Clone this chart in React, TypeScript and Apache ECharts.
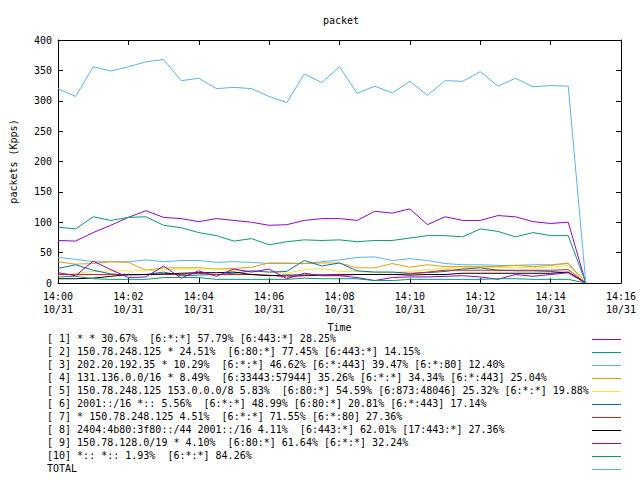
import React, { useEffect, useRef } from "react";
import * as echarts from "echarts";

const times = [
  "14:00:00", "14:00:30", "14:01:00", "14:01:30", "14:02:00", "14:02:30", "14:03:00", "14:03:30",
  "14:04:00", "14:04:30", "14:05:00", "14:05:30", "14:06:00", "14:06:30", "14:07:00", "14:07:30",
  "14:08:00", "14:08:30", "14:09:00", "14:09:30", "14:10:00", "14:10:30", "14:11:00", "14:11:30",
  "14:12:00", "14:12:30", "14:13:00", "14:13:30", "14:14:00", "14:14:30", "14:15:00",
];

const xTickMinutes = [0, 2, 4, 6, 8, 10, 12, 14, 16];
const dateLabel = "10/31";

const names = [
  "[ 1] * * 30.67%  [6:*:*] 57.79% [6:443:*] 28.25%",
  "[ 2] 150.78.248.125 * 24.51%  [6:80:*] 77.45% [6:443:*] 14.15%",
  "[ 3] 202.20.192.35 * 10.29%  [6:*:*] 46.62% [6:*:443] 39.47% [6:*:80] 12.40%",
  "[ 4] 131.136.0.0/16 * 8.49%  [6:33443:57944] 35.26% [6:*:*] 34.34% [6:*:443] 25.04%",
  "[ 5] 150.78.248.125 153.0.0.0/8 5.83%  [6:80:*] 54.59% [6:873:48046] 25.32% [6:*:*] 19.88%",
  "[ 6] 2001::/16 *:: 5.56%  [6:*:*] 48.99% [6:80:*] 20.81% [6:*:443] 17.14%",
  "[ 7] * 150.78.248.125 4.51%  [6:*:*] 71.55% [6:*:80] 27.36%",
  "[ 8] 2404:4b80:3f80::/44 2001::/16 4.11%  [6:443:*] 62.01% [17:443:*] 27.36%",
  "[ 9] 150.78.128.0/19 * 4.10%  [6:80:*] 61.64% [6:*:*] 32.24%",
  "[10] *:: *:: 1.93%  [6:*:*] 84.26%",
  "TOTAL",
];

const colors = [
  "#9400d3", "#009e73", "#56b4e9", "#e69f00", "#f0e442", "#0072b2",
  "#e51e10", "#000000", "#9400d3", "#009e73", "#56b4e9",
];

const s1 = [70, 69, 83, 95, 108, 119, 108, 106, 101, 106, 103, 100, 95, 96, 103, 106, 106, 103, 118, 115, 122, 96, 109, 103, 103, 111, 109, 101, 98, 100, 0];
const s2 = [92, 89, 109, 103, 108, 109, 95, 91, 83, 78, 69, 73, 63, 68, 71, 70, 71, 68, 70, 70, 74, 78, 78, 76, 89, 85, 76, 83, 78, 78, 0];
const s3 = [42, 39, 35, 35, 35, 38, 35, 37, 37, 34, 35, 34, 32, 32, 32, 35, 38, 42, 43, 37, 40, 37, 32, 30, 30, 29, 29, 30, 30, 32, 0];
const s4 = [35, 31, 32, 35, 34, 21, 25, 25, 25, 23, 24, 26, 33, 33, 32, 33, 33, 25, 25, 32, 26, 30, 27, 27, 27, 27, 29, 27, 29, 33, 0];
const s5 = [13, 16, 19, 20, 20, 20, 22, 23, 23, 23, 21, 20, 18, 16, 22, 24, 19, 19, 17, 17, 19, 22, 24, 25, 26, 25, 26, 25, 26, 29, 0];
const s6 = [24, 30, 21, 15, 13, 14, 18, 12, 13, 14, 16, 20, 18, 19, 37, 28, 33, 20, 18, 18, 16, 17, 19, 23, 25, 21, 20, 20, 19, 17, 0];
const s7 = [14, 14, 14, 14, 14, 14, 14, 14, 16, 14, 14, 14, 13, 10, 12, 13, 14, 14, 14, 14, 15, 18, 21, 21, 21, 21, 21, 21, 21, 22, 0];
const s8 = [7, 7, 8, 11, 14, 14, 15, 16, 17, 17, 18, 14, 12, 13, 13, 13, 13, 14, 14, 14, 13, 14, 14, 16, 16, 16, 16, 16, 16, 18, 0];
const s9 = [17, 12, 36, 22, 9, 10, 28, 8, 20, 11, 23, 18, 23, 7, 16, 12, 12, 9, 4, 9, 10, 10, 11, 12, 10, 6, 14, 11, 14, 17, 0];
const s10 = [10, 11, 7, 6, 6, 6, 9, 9, 9, 6, 6, 6, 6, 6, 8, 7, 7, 7, 4, 4, 6, 6, 6, 6, 6, 7, 7, 6, 6, 6, 0];
const total = [320, 307, 356, 349, 356, 364, 368, 333, 337, 320, 322, 320, 307, 297, 344, 330, 356, 312, 324, 313, 332, 309, 333, 332, 348, 324, 337, 323, 325, 324, 0];

const seriesValues = [s1, s2, s3, s4, s5, s6, s7, s8, s9, s10, total];

const FONT = '"DejaVu Sans Mono", "Liberation Mono", monospace';

function toMinutes(t: string): number {
  const [h, m, s] = t.split(":").map(Number);
  return (h - 14) * 60 + m + s / 60;
}

function pad(n: number) {
  return n < 10 ? "0" + n : String(n);
}

export default function App() {
  const ref = useRef<HTMLDivElement>(null);
  useEffect(() => {
    if (!ref.current) return;
    const chart = echarts.init(ref.current, null, { renderer: "svg" });
    const xs = times.map(toMinutes);
    const textStyle = { fontFamily: FONT, fontSize: 10, color: "#000" };

    const series = seriesValues.map((vals, k) => ({
      name: names[k],
      type: "line" as const,
      data: vals.map((v, i) => [xs[i], v]),
      showSymbol: false,
      symbol: "none",
      silent: true,
      lineStyle: { width: 1, color: colors[k] },
      itemStyle: { color: colors[k] },
      emphasis: { disabled: true },
      z: 2,
    }));

    const legendGraphics: any[] = [];
    names.forEach((n, k) => {
      const y = 339.5 + 13 * k;
      legendGraphics.push({
        type: "text",
        left: 47,
        top: y - 6,
        silent: true,
        style: {
          text: n.replace(/  /g, "\u00a0 "),
          font: `10px ${FONT}`,
          fill: "#000",
        },
      });
      legendGraphics.push({
        type: "line",
        silent: true,
        shape: { x1: 592, y1: y, x2: 621, y2: y },
        style: { stroke: colors[k], lineWidth: 1 },
      });
    });

    const axisTick = { show: true, inside: true, length: 5, lineStyle: { color: "#000", width: 1 } };
    const axisLine = { show: true, onZero: false, lineStyle: { color: "#000", width: 1 } };

    chart.setOption({
      animation: false,
      backgroundColor: "#fff",
      title: {
        text: "packet",
        left: 318,
        top: 10,
        textStyle: { ...textStyle, fontWeight: "normal" },
      },
      grid: { left: 52, right: 19, top: 40, bottom: 197, containLabel: false },
      xAxis: [
        {
          type: "value",
          min: 0,
          max: 16,
          interval: 2,
          name: "Time",
          nameLocation: "middle",
          nameGap: 39,
          nameTextStyle: textStyle,
          axisLine,
          axisTick,
          splitLine: { show: false },
          axisLabel: {
            ...textStyle,
            margin: 7,
            lineHeight: 13,
            formatter: (v: number) =>
              xTickMinutes.includes(v) ? `14:${pad(v)}\n${dateLabel}` : "",
          },
        },
        {
          type: "value",
          position: "top",
          min: 0,
          max: 16,
          interval: 2,
          axisLine,
          axisTick,
          splitLine: { show: false },
          axisLabel: { show: false },
        },
      ],
      yAxis: [
        {
          type: "value",
          min: 0,
          max: 400,
          interval: 50,
          name: "packets (Kpps)",
          nameLocation: "middle",
          nameGap: 40,
          nameTextStyle: textStyle,
          axisLine,
          axisTick,
          splitLine: { show: false },
          axisLabel: { ...textStyle, margin: 6 },
        },
        {
          type: "value",
          position: "right",
          min: 0,
          max: 400,
          interval: 50,
          axisLine,
          axisTick,
          splitLine: { show: false },
          axisLabel: { show: false },
        },
      ],
      series,
      graphic: legendGraphics,
    });
    return () => chart.dispose();
  }, []);
  return (
    <div
      ref={ref}
      style={{ position: "fixed", left: 0, top: 0, width: 640, height: 480, background: "#fff" }}
    />
  );
}
